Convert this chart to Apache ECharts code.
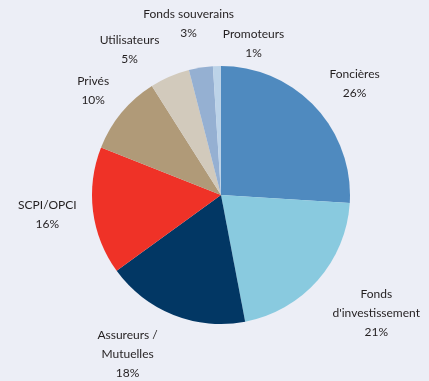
<!DOCTYPE html>
<html>
<head>
<meta charset="utf-8">
<script src="https://cdn.jsdelivr.net/npm/echarts@6/dist/echarts.min.js"></script>
<style>
html,body{margin:0;padding:0;background:#eceef6;}
#c{width:429px;height:381px;}
</style>
</head>
<body>
<div id="c"></div>
<script>
const categories = ["Foncières", "Fonds\nd'investissement", "Assureurs /\nMutuelles", "SCPI/OPCI", "Privés", "Utilisateurs", "Fonds souverains", "Promoteurs"];
const values = [26, 21, 18, 16, 10, 5, 3, 1];
const colors = ["#4f8abf", "#89cadf", "#023764", "#ef3227", "#b09a78", "#d2cabc", "#95b0d2", "#bcd3e8"];
const labelShift = [[6, 8], [24, 2], [-29, -4], [0, -2], [7, 7], [-22, 15], [-5, 1], [38, 24]];

const data = categories.map((n, i) => ({ name: n, value: values[i], itemStyle: { color: colors[i] } }));

const chart = echarts.init(document.getElementById('c'), null, { renderer: 'canvas' });
chart.setOption({
  backgroundColor: '#eceef6',
  animation: false,
  series: [
    {
      type: 'pie',
      center: [221, 195],
      radius: [0, 129],
      startAngle: 90,
      clockwise: true,
      silent: true,
      label: { show: false },
      labelLine: { show: false },
      data: data
    },
    {
      type: 'pie',
      center: [221, 195],
      radius: [150, 194],
      startAngle: 90,
      clockwise: true,
      silent: true,
      itemStyle: { color: 'rgba(0,0,0,0)' },
      label: {
        show: true,
        position: 'inside',
        formatter: p => p.name + '\n' + p.value + '%',
        fontFamily: 'Lato',
        fontSize: 12,
        lineHeight: 19,
        color: '#231f20',
        align: 'center'
      },
      labelLine: { show: false },
      labelLayout: p => ({ dx: labelShift[p.dataIndex][0], dy: labelShift[p.dataIndex][1] }),
      data: categories.map((n, i) => ({ name: n, value: values[i] }))
    }
  ]
});
</script>
</body>
</html>
